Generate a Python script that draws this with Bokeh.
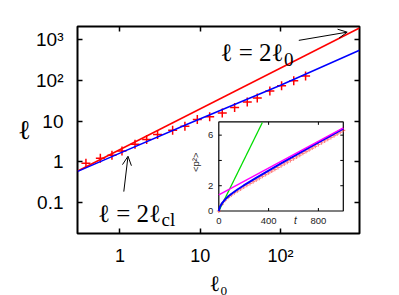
import math
from bokeh.plotting import figure
from bokeh.models import (Range1d, LinearScale, LogAxis, FixedTicker, Label,
                          Arrow, OpenHead, Title)
from bokeh.core.properties import value
from bokeh.embed import file_html
from bokeh.resources import INLINE

# ---------------- data: main panel ----------------
ell0_sim = [0.377, 0.570, 0.795, 1.06, 1.54, 2.15, 2.94, 4.53, 6.44, 9.19,
            13.1, 18.8, 26.8, 38.5, 51.3, 73.6, 103, 146, 205]
ell_sim = [0.93, 1.23, 1.45, 1.85, 2.69, 3.56, 4.71, 5.99, 7.49, 10.9,
           12.7, 15.8, 21.7, 29.3, 36.6, 55.1, 74.1, 98.0, 128]
ell0_theory = [0.298, 1.0, 7.0, 100, 962]
ell_theory = [0.585, 1.64, 8.51, 75.6, 546]
ell0_ballistic = [0.298, 962]
ell_ballistic = [0.596, 1924]
x_range_main = (0.296, 962)
y_range_main = (0.0175, 2090)
x_ticks = [1, 10, 100]
x_tick_labels = ["1", "10", "10²"]
y_ticks = [0.1, 1, 10, 100, 1000]
y_tick_labels = ["0.1", "1", "10", "10²", "10³"]
x_label = "ℓ₀"
y_label = "ℓ"

# ---------------- data: inset ----------------
inset_t_range = (0, 1000)
inset_p2_range = (0, 7.05)
t_curve = [0, 10, 25, 50, 75, 100, 150, 200, 300, 400, 500, 600, 700, 800, 900, 1000]
p2_curve = [0.0, 0.35, 0.6, 0.9, 1.15, 1.35, 1.7, 2.02, 2.62, 3.2, 3.77, 4.33,
            4.88, 5.43, 5.97, 6.51]
t_sim = list(range(0, 1001, 25))
p2_sim = [0.0, 0.55, 0.85, 1.08, 1.27, 1.45, 1.6, 1.75, 1.9, 2.04, 2.18, 2.32,
          2.46, 2.6, 2.74, 2.88, 3.02, 3.16, 3.3, 3.44, 3.58, 3.72, 3.86, 4.0,
          4.14, 4.28, 4.42, 4.56, 4.7, 4.84, 4.98, 5.12, 5.26, 5.4, 5.54,
          5.68, 5.82, 5.96, 6.1, 6.24, 6.38]
t_short = [0, 350]
p2_short = [0, 7.0]
t_long = [0, 1000]
p2_long = [1.27, 6.57]
inset_x_ticks = [0, 400, 800]
inset_x_tick_labels = ["0", "400", "800"]
inset_y_ticks = [0, 2, 4, 6]
inset_y_tick_labels = ["0", "2", "", "6"]

# ---------------- layout (canvas pixels) ----------------
W, H = 399, 295
FL, FR, FT, FB = 77, 359, 26, 235          # main frame
IL, IR, IT, IB = 218.3, 342.8, 122.3, 212.3  # inset frame

sx = (IR - IL) / (inset_t_range[1] - inset_t_range[0])
sy = (IB - IT) / (inset_p2_range[1] - inset_p2_range[0])
inset_xr = Range1d(inset_t_range[0] - (IL - FL) / sx, inset_t_range[1] + (FR - IR) / sx)
inset_yr = Range1d(inset_p2_range[0] - (FB - IB) / sy, inset_p2_range[1] + (IT - FT) / sy)

p = figure(width=W, height=H, x_axis_type="log", y_axis_type="log",
           x_range=x_range_main, y_range=y_range_main,
           output_backend="svg", toolbar_location=None,
           min_border_left=FL, min_border_right=W - FR,
           min_border_top=FT, min_border_bottom=H - FB)
p.extra_x_ranges = {"inset": inset_xr, "px": Range1d(FL, FR)}
p.extra_y_ranges = {"inset": inset_yr, "px": Range1d(FB, FT)}
p.extra_x_scales = {"inset": LinearScale(), "px": LinearScale()}
p.extra_y_scales = {"inset": LinearScale(), "px": LinearScale()}

p.grid.visible = False
p.outline_line_color = "black"
p.outline_line_width = 2
p.background_fill_color = "white"
p.border_fill_color = "white"

bottom_ax = p.below[0]
left_ax = p.left[0]
bottom_ax.ticker = FixedTicker(ticks=x_ticks)
bottom_ax.major_label_overrides = dict(zip(x_ticks, x_tick_labels))
left_ax.ticker = FixedTicker(ticks=y_ticks)
left_ax.major_label_overrides = dict(zip(y_ticks, y_tick_labels))
top_ax = LogAxis(ticker=FixedTicker(ticks=x_ticks))
right_ax = LogAxis(ticker=FixedTicker(ticks=y_ticks))
p.add_layout(top_ax, "above")
p.add_layout(right_ax, "right")

for ax in (bottom_ax, left_ax, top_ax, right_ax):
    ax.major_tick_in = 5
    ax.major_tick_out = 0
    ax.major_tick_line_width = 1.5
    ax.major_tick_line_color = "black"
    ax.minor_tick_line_color = None
    ax.axis_line_color = None
    ax.major_label_text_font = "Liberation Sans"
    ax.major_label_text_color = "black"
left_ax.major_label_text_font_size = "19px"
left_ax.major_label_standoff = 14
bottom_ax.major_label_text_font_size = "18px"
bottom_ax.major_label_standoff = 12
for ax in (top_ax, right_ax):
    ax.major_label_text_font_size = "6px"
    ax.major_label_text_alpha = 0
    ax.major_label_standoff = 0

# y axis label (horizontal if supported)
left_ax.axis_label = y_label
left_ax.axis_label_text_font = "Liberation Serif"
left_ax.axis_label_text_font_size = "27px"
left_ax.axis_label_text_font_style = "normal"
left_ax.axis_label_text_color = "black"
left_ax.axis_label_standoff = 2
if "axis_label_orientation" in left_ax.properties():
    left_ax.axis_label_orientation = "horizontal"

# x axis label as a title below the axis, shifted right
p.add_layout(Title(text=x_label, align="center", offset=27, standoff=0,
                   text_font="Liberation Serif", text_font_size="22px",
                   text_font_style="normal", text_color="black"), "below")

# ---------------- main glyphs ----------------
p.scatter(ell0_sim, ell_sim, marker="cross", size=9, line_color="#ff0000", line_width=1.5)
p.line(ell0_ballistic, ell_ballistic, line_color="#ff0000", line_width=1.5)
p.line(ell0_theory, ell_theory, line_color="#0000ff", line_width=1.5)

# ---------------- inset ----------------
ik = dict(x_range_name="inset", y_range_name="inset")
p.quad(left=[inset_t_range[0]], right=[inset_t_range[1]],
       bottom=[inset_p2_range[0]], top=[inset_p2_range[1]],
       fill_color="white", line_color="black", line_width=1.2, **ik)
p.line(t_short, p2_short, line_color="#00dd00", line_width=1.3, **ik)
p.scatter(t_sim, p2_sim, marker="cross", size=4, line_color="#ff3030",
          line_alpha=0.6, line_width=1.2, **ik)
p.line(t_curve, p2_curve, line_color="#0000ff", line_width=2, **ik)
p.line(t_long, p2_long, line_color="#ff00ff", line_width=1.5, **ik)

tl = 3.0
xt = [t for t in inset_x_ticks if inset_t_range[0] < t < inset_t_range[1]]
yt = [v for v in inset_y_ticks if inset_p2_range[0] < v < inset_p2_range[1]]
y0, y1 = inset_p2_range
x0, x1 = inset_t_range
p.segment(x0=xt, x1=xt, y0=[y0] * len(xt), y1=[y0 + tl / sy] * len(xt), line_color="black", **ik)
p.segment(x0=xt, x1=xt, y0=[y1] * len(xt), y1=[y1 - tl / sy] * len(xt), line_color="black", **ik)
p.segment(x0=[x0] * len(yt), x1=[x0 + tl / sx] * len(yt), y0=yt, y1=yt, line_color="black", **ik)
p.segment(x0=[x1] * len(yt), x1=[x1 - tl / sx] * len(yt), y0=yt, y1=yt, line_color="black", **ik)

sans = value("Liberation Sans")
p.text(x=inset_x_ticks, y=[y0 - 9.7 / sy] * len(inset_x_ticks), text=inset_x_tick_labels,
       text_align="center", text_baseline="middle", text_font_size="9.5px",
       text_font=sans, text_color="#222222", **ik)
p.text(x=[x0 - 5.5 / sx] * len(inset_y_ticks), y=inset_y_ticks, text=inset_y_tick_labels,
       text_align="right", text_baseline="middle", text_font_size="9.5px",
       text_font=sans, text_color="#222222", **ik)
p.text(x=[(295 - IL) / sx], y=[y0 - 9.7 / sy], text=["t"], text_align="center",
       text_baseline="middle", text_font_size="10px", text_font_style="italic",
       text_font=sans, text_color="#222222", **ik)
p.text(x=[(195 - IL) / sx], y=[(IB - 163) / sy], text=["<p²>"], angle=math.pi / 2,
       text_align="center", text_baseline="middle", text_font_size="9.5px",
       text_font=sans, text_color="#222222", **ik)

# ---------------- annotations (canvas pixel coords, inside frame) ----------------
pk = dict(x_range_name="px", y_range_name="px")
serif = "Liberation Serif"
def lab(x, y, text, size, align="left"):
    p.add_layout(Label(x=x, y=y, text=text, text_font=serif, text_font_size=size,
                       text_align=align, text_baseline="alphabetic",
                       text_color="black", **pk))

lab(283, 52, "ℓ = 2ℓ", "25px", "right")
lab(283.5, 59, "0", "19px")
lab(160.5, 215, "ℓ = 2ℓ", "25px", "right")
lab(161, 221, "cl", "19px")

p.add_layout(Arrow(end=OpenHead(size=9, line_width=1, line_color="black"),
                   x_start=298.3, y_start=40, x_end=346.7, y_end=31.7,
                   line_width=1, line_color="black", **pk))
p.add_layout(Arrow(end=OpenHead(size=9, line_width=1, line_color="black"),
                   x_start=123.3, y_start=192.7, x_end=127.5, y_end=157,
                   line_width=1, line_color="black", **pk))

open("out.html", "w").write(file_html(p, INLINE))
